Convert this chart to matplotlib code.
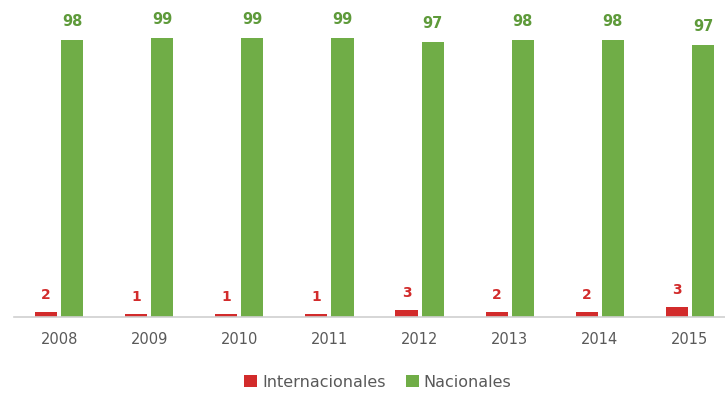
import numpy as np
import matplotlib
matplotlib.use("Agg")
import matplotlib.pyplot as plt

# Datos (porcentaje de participantes por año)
anios = ["2008", "2009", "2010", "2011", "2012", "2013", "2014", "2015"]
internacionales = [1.6, 1.2, 1.1, 1.0, 2.6, 1.8, 1.7, 3.4]
nacionales = [98.4, 98.8, 98.9, 99.0, 97.4, 98.2, 98.3, 96.6]

color_int = "#D22B2B"
color_nac = "#70AD47"

fig = plt.figure(figsize=(7.25, 4.02), dpi=100)
ax = fig.add_axes([14 / 725, 1 - 318 / 402, 721 / 725, 0.7716])

x = np.arange(len(anios))
ancho = 0.245
desp = 0.145

b1 = ax.bar(x - desp, internacionales, ancho, color=color_int, label="Internacionales")
b2 = ax.bar(x + desp, nacionales, ancho, color=color_nac, label="Nacionales")

# Etiquetas de valores
for rect, v in zip(b1, internacionales):
    ax.annotate(f"{round(v):d}", (rect.get_x() + rect.get_width() / 2, v),
                xytext=(0, 13), textcoords="offset points", ha="center", va="center",
                color=color_int, fontsize=10, fontweight="bold")
for rect, v in zip(b2, nacionales):
    ax.annotate(f"{round(v):d}", (rect.get_x() + rect.get_width() / 2, v),
                xytext=(0, 14), textcoords="offset points", ha="center", va="center",
                color="#5E9A3A", fontsize=10.5, fontweight="bold")

ax.set_xlim(-0.5, len(anios) - 0.5)
ax.set_ylim(0, 110)
ax.set_xticks(x)
ax.set_xticklabels(anios, fontsize=10.5, color="#595959")
ax.set_yticks([])
ax.tick_params(axis="x", length=0, pad=10)
for s in ["top", "right", "left"]:
    ax.spines[s].set_visible(False)
ax.spines["bottom"].set_color("#D0D0D0")
ax.spines["bottom"].set_linewidth(1.2)

fig.legend(loc="center", bbox_to_anchor=(378 / 725, 1 - 383 / 402), ncol=2,
           frameon=False, fontsize=11.5, labelcolor="#595959",
           handlelength=0.8, handleheight=0.8, handletextpad=0.3, columnspacing=1.3)

fig.savefig("out.png", dpi=100)
